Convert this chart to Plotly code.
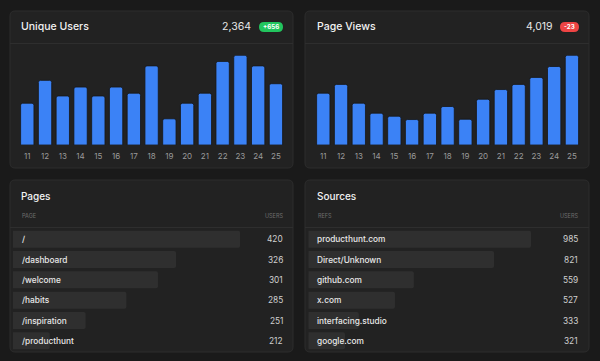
import plotly.graph_objects as go

# ---------------- data ----------------
days = ["11", "12", "13", "14", "15", "16", "17", "18", "19", "20", "21", "22", "23", "24", "25"]
unique_users = [75, 116, 88, 104, 88, 104, 93, 142, 47, 75, 93, 150, 161, 142, 110]
page_views = [171, 200, 138, 105, 95, 84, 105, 127, 85, 151, 183, 200, 223, 259, 296]

users_total = "2,364"
users_delta = "+656"
views_total = "4,019"
views_delta = "-23"

pages = ["/", "/dashboard", "/welcome", "/habits", "/inspiration", "/producthunt"]
page_users = [420, 326, 301, 285, 251, 212]
page_bar_share = [84.1, 60.4, 53.7, 42.0, 26.9, 13.6]

sources = ["producthunt.com", "Direct/Unknown", "github.com", "x.com", "interfacing.studio", "google.com"]
source_users = [985, 821, 559, 527, 333, 321]
source_bar_share = [82.5, 68.8, 39.1, 32.1, 18.7, 13.6]

# ---------------- helpers ----------------
W, H = 600, 361
FONT = "Inter"
BG = "#1a1a1a"
CARD = "#222222"
BORDER = "#2c2c2c"
BLUE = "#3b82f6"


def px(x):
    return x / W


def py(y):
    return 1 - y / H


def rrect(x0, y0, x1, y1, r):
    rx, ry = r / W, r / H
    X0, X1 = px(x0), px(x1)
    Y0, Y1 = py(y0), py(y1)  # Y0 top (bigger), Y1 bottom
    return (f"M {X0+rx},{Y0} L {X1-rx},{Y0} Q {X1},{Y0} {X1},{Y0-ry} "
            f"L {X1},{Y1+ry} Q {X1},{Y1} {X1-rx},{Y1} L {X0+rx},{Y1} "
            f"Q {X0},{Y1} {X0},{Y1+ry} L {X0},{Y0-ry} Q {X0},{Y0} {X0+rx},{Y0} Z")


fig = go.Figure()
shapes = []
annotations = []

cards = [(10, 11, 293, 168), (305, 11, 589, 168), (10, 180, 293, 352), (305, 180, 589, 352)]
for (x0, y0, x1, y1) in cards:
    shapes.append(dict(type="path", xref="paper", yref="paper", path=rrect(x0, y0, x1, y1, 5),
                       fillcolor=CARD, line=dict(color=BORDER, width=1), layer="below"))

# header dividers
for (x0, x1, y) in [(10, 293, 43.5), (305, 589, 43.5), (10, 293, 227.5), (305, 589, 227.5)]:
    shapes.append(dict(type="line", xref="paper", yref="paper", x0=px(x0), x1=px(x1), y0=py(y), y1=py(y),
                       line=dict(color="#2e2e2e", width=1), layer="below"))

# badges
shapes.append(dict(type="path", xref="paper", yref="paper", path=rrect(259, 22, 283, 32, 5),
                   fillcolor="#22c55e", line=dict(width=0)))
shapes.append(dict(type="path", xref="paper", yref="paper", path=rrect(560, 22, 579, 32, 5),
                   fillcolor="#ef4444", line=dict(width=0)))


def text(x, y, s, size, color, anchor="left", weight=400):
    annotations.append(dict(x=px(x), y=py(y), xref="paper", yref="paper", text=s, showarrow=False,
                            xanchor=anchor, yanchor="middle", borderpad=0,
                            font=dict(family=FONT, size=size, color=color, weight=weight)))


text(20, 27, "Unique Users", 10.5, "#f2f2f2", weight=500)
text(252, 27, users_total, 10.5, "#e8e8e8", "right")
text(271, 27, users_delta, 6.2, "#ffffff", "center", 700)
text(315.5, 27, "Page Views", 10.5, "#f2f2f2", weight=500)
text(553.5, 27, views_total, 10.5, "#e8e8e8", "right")
text(569.5, 27, views_delta, 6.2, "#ffffff", "center", 700)

text(20, 196, "Pages", 10, "#f2f2f2", weight=500)
text(316, 196, "Sources", 10, "#f2f2f2", weight=500)
text(20.5, 216, "PAGE", 5.5, "#6e6e6e")
text(283.5, 216, "USERS", 5.5, "#6e6e6e", "right")
text(316.5, 216, "REFS", 5.5, "#6e6e6e")
text(579, 216, "USERS", 5.5, "#6e6e6e", "right")

# ---------------- top bar charts ----------------
fig.add_trace(go.Bar(x=days, y=unique_users, marker=dict(color=BLUE, cornerradius=2,
                     line=dict(color="#161616", width=0.8)), xaxis="x", yaxis="y", hoverinfo="skip"))
fig.add_trace(go.Bar(x=days, y=page_views, marker=dict(color=BLUE, cornerradius=2,
                     line=dict(color="#161616", width=0.8)), xaxis="x2", yaxis="y2", hoverinfo="skip"))

# ---------------- bottom bar tables ----------------
fig.add_trace(go.Bar(y=pages, x=page_bar_share, orientation="h",
                     marker=dict(color="#2f2f2f", cornerradius=2, line=dict(width=0)),
                     xaxis="x3", yaxis="y3", hoverinfo="skip"))
fig.add_trace(go.Bar(y=sources, x=source_bar_share, orientation="h",
                     marker=dict(color="#2f2f2f", cornerradius=2, line=dict(width=0)),
                     xaxis="x4", yaxis="y4", hoverinfo="skip"))

row_font = dict(family=FONT, size=8.3, color="#e8e8e8", weight=500)
val_font = dict(family=FONT, size=8.3, color="#d0d0d0")
for name, val in zip(pages, page_users):
    annotations.append(dict(x=0, xref="x3", y=name, yref="y3", text=name, showarrow=False, borderpad=0,
                            xanchor="left", xshift=7.5, font=row_font))
    annotations.append(dict(x=px(283.5), xref="paper", y=name, yref="y3", text=str(val), showarrow=False,
                            xanchor="right", borderpad=0, font=val_font))
for name, val in zip(sources, source_users):
    annotations.append(dict(x=0, xref="x4", y=name, yref="y4", text=name, showarrow=False, borderpad=0,
                            xanchor="left", xshift=8, font=row_font))
    annotations.append(dict(x=px(579), xref="paper", y=name, yref="y4", text=str(val), showarrow=False,
                            xanchor="right", borderpad=0, font=val_font))

tick_font = dict(family=FONT, size=8, color="#9a9a9a")
common_x = dict(showgrid=False, zeroline=False, showline=False, ticks="", tickfont=tick_font,
                type="category", range=[-0.5, 14.5], fixedrange=True, ticklabelstandoff=5)
base_top, top_max = 145, 55.3
fig.update_layout(
    width=W, height=H, margin=dict(l=0, r=0, t=0, b=0),
    paper_bgcolor=BG, plot_bgcolor="rgba(0,0,0,0)", showlegend=False, bargap=0.25,
    xaxis=dict(common_x, domain=[px(18.4), px(284.8)], anchor="y"),
    yaxis=dict(domain=[py(base_top), py(top_max)], range=[0, max(unique_users)], visible=False),
    xaxis2=dict(common_x, domain=[px(314.4), px(580.8)], anchor="y2"),
    yaxis2=dict(domain=[py(base_top), py(top_max)], range=[0, max(page_views)], visible=False),
    xaxis3=dict(domain=[px(13), px(283)], range=[0, 100], visible=False, anchor="y3"),
    yaxis3=dict(domain=[py(351), py(229)], autorange="reversed", visible=False, anchor="x3"),
    xaxis4=dict(domain=[px(308.3), px(578.3)], range=[0, 100], visible=False, anchor="y4"),
    yaxis4=dict(domain=[py(351), py(229)], autorange="reversed", visible=False, anchor="x4"),
    shapes=shapes, annotations=annotations,
)
fig.update_traces(selector=dict(orientation="h"), width=0.84)

fig.write_html("out.html", config={"displayModeBar": False, "staticPlot": True},
               post_script="document.body.style.margin='0px';document.body.style.background='#1a1a1a';")
